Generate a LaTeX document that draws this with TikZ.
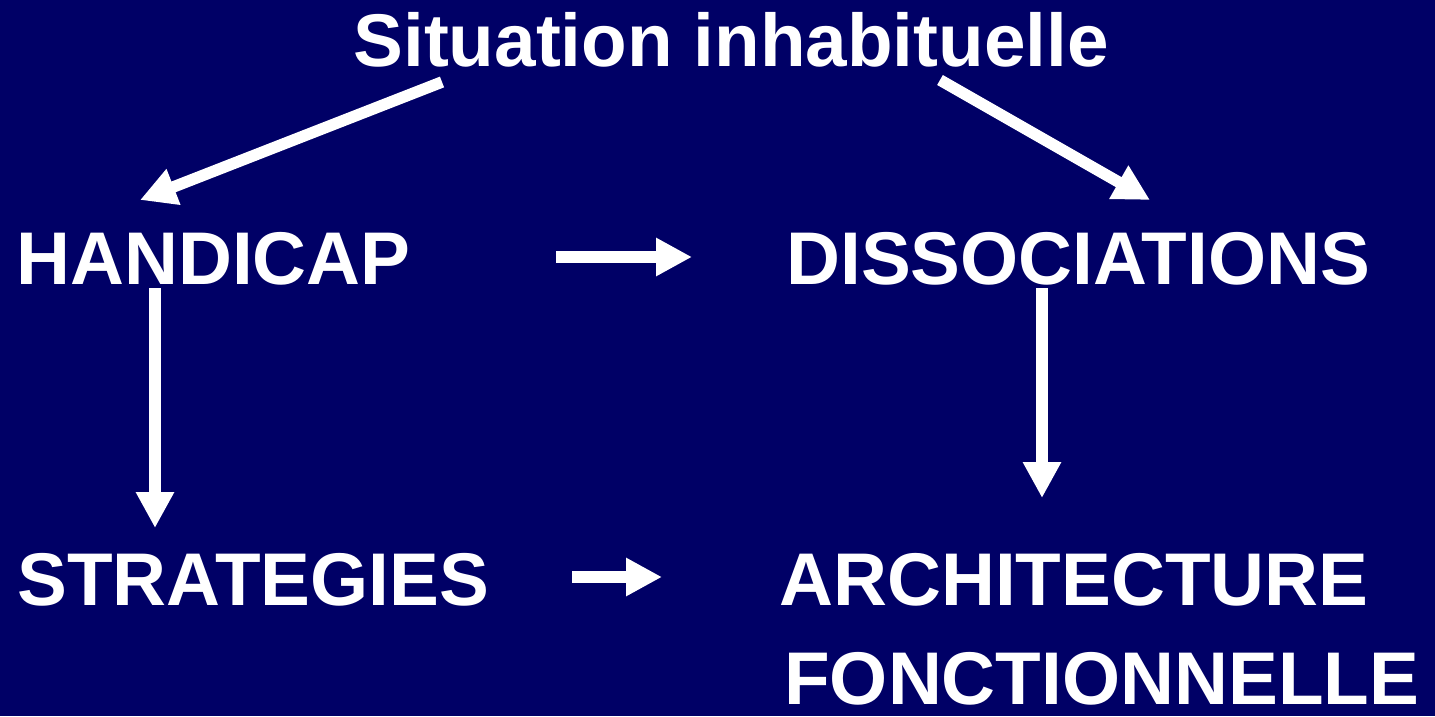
\documentclass[tikz,border=0pt]{standalone}
\usepackage{fontspec}
\setmainfont{Liberation Sans}
\usepackage{xcolor}
\usetikzlibrary{arrows.meta,positioning}
\definecolor{navy}{RGB}{0,0,102}

\begin{document}
\begin{tikzpicture}[x=0.02cm,y=0.02cm]
        \tikzstyle{every node}+=[inner sep=0pt]
        \tikzstyle{word}=[text=white,font=\bfseries\fontsize{42.5}{50}\selectfont]
        \tikzstyle{link}=[white,line width=0.23cm,-{Triangle[length=0.72cm,width=0.72cm]}]
        \fill [navy] (0,0) rectangle (1435,-716);
        \useasboundingbox (0,0) rectangle (1435,-716);
        \node [word,anchor=base] (sit) at (731,-67) {Situation inhabituelle};
        \node [word,anchor=base west] (hand) at (16,-284) {HANDICAP};
        \node [word,anchor=base west] (diss) at (786,-284) {DISSOCIATIONS};
        \node [word,anchor=base west] (strat) at (17,-605) {STRATEGIES};
        \node [word,anchor=base west] (arch) at (779,-605) {ARCHITECTURE};
        \node [word,anchor=base west] (fonc) at (784,-704) {FONCTIONNELLE};
        \coordinate (sitL) at (442,-82);
        \coordinate (sitR) at (940,-80);
        \coordinate (handT) at (140,-200);
        \coordinate (dissT) at (1150,-200);
        \coordinate (handE) at (556,-257);
        \coordinate (dissW) at (692,-257);
        \coordinate (handS) at (155,-288);
        \coordinate (stratN) at (155,-528);
        \coordinate (dissS) at (1042,-288);
        \coordinate (archN) at (1042,-498);
        \coordinate (stratE) at (572,-577);
        \coordinate (archW) at (662,-577);
        \draw [link] (sitL) -- (handT);
        \draw [link] (sitR) -- (dissT);
        \draw [link] (handE) -- (dissW);
        \draw [link] (handS) -- (stratN);
        \draw [link] (dissS) -- (archN);
        \draw [link] (stratE) -- (archW);
    \end{tikzpicture}
\end{document}
